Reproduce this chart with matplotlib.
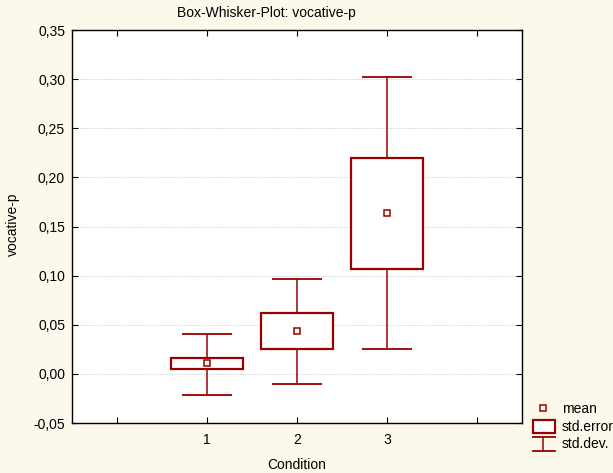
import matplotlib
matplotlib.use("Agg")
import matplotlib.pyplot as plt
from matplotlib.patches import Rectangle

plt.rcParams['font.family'] = ['Liberation Sans', 'DejaVu Sans']

# Data
conditions = [1, 2, 3]
means = [0.011, 0.044, 0.164]
se_lo = [0.005, 0.025, 0.107]
se_hi = [0.016, 0.062, 0.220]
sd_lo = [-0.021, -0.010, 0.025]
sd_hi = [0.041, 0.097, 0.302]
yticks = [-0.05, 0.00, 0.05, 0.10, 0.15, 0.20, 0.25, 0.30, 0.35]
ytick_labels = ["-0,05", "0,00", "0,05", "0,10", "0,15", "0,20", "0,25", "0,30", "0,35"]
xticks = [0, 1, 2, 3, 4]
xtick_labels = ["", "1", "2", "3", ""]

RED = "#990000"
BG = "#FDF8EC"
FS = 10

fig = plt.figure(figsize=(6.13, 4.73), dpi=100, facecolor=BG)
ax = fig.add_axes([72/613, 50/473, 450/613, 393/473])
ax.set_facecolor("white")

box_w = 0.79
cap_w = 0.56
for x, m, blo, bhi, wlo, whi in zip(conditions, means, se_lo, se_hi, sd_lo, sd_hi):
    ax.vlines(x, bhi, whi, color=RED, lw=1.1, zorder=3)
    ax.vlines(x, wlo, blo, color=RED, lw=1.1, zorder=3)
    ax.hlines([wlo, whi], x - cap_w/2, x + cap_w/2, color=RED, lw=1.3, zorder=3)
    ax.add_patch(Rectangle((x - box_w/2, blo), box_w, bhi - blo, facecolor="white",
                           edgecolor=RED, lw=1.6, zorder=4))
    ax.plot([x], [m], marker="s", ms=4.5, mfc="white", mec=RED, mew=1.1, zorder=5)

ax.set_xlim(-0.5, 4.5)
ax.set_ylim(-0.05, 0.35)
ax.set_yticks(yticks)
ax.set_yticklabels(ytick_labels)
ax.set_xticks(xticks)
ax.set_xticklabels(xtick_labels)
ax.tick_params(direction="in", top=True, right=True, length=4, width=0.8,
               labelsize=FS, colors="black")
ax.tick_params(axis="x", pad=7)
ax.tick_params(axis="y", pad=5)
for s in ax.spines.values():
    s.set_linewidth(1.0)
    s.set_color("black")
ax.yaxis.grid(True, linestyle=(0, (1, 1.5)), color="#C8C8C8", lw=0.7)
ax.set_axisbelow(True)

ax.set_xlabel("Condition", fontsize=FS, labelpad=8)

# Figure-level texts (pixel positions)
fig.text(266.5/613, 1 - 13/473, "Box-Whisker-Plot: vocative-p", fontsize=FS,
         ha="center", va="center")
fig.text(13/613, 1 - 224/473, "vocative-p", fontsize=FS, rotation=90,
         ha="center", va="center")

# Legend (manual, in figure pixel coordinates)
lg = fig.add_axes([0, 0, 1, 1], facecolor="none")
lg.set_xlim(0, 613)
lg.set_ylim(473, 0)
lg.axis("off")
lg.plot([543], [408], marker="s", ms=4.5, mfc="white", mec=RED, mew=1.1)
lg.text(562, 409, "mean", fontsize=FS, va="center", ha="left")
lg.add_patch(Rectangle((533, 420), 22, 13, facecolor="white", edgecolor=RED, lw=1.6))
lg.text(562, 427, "std.error", fontsize=FS, va="center", ha="left")
lg.plot([543, 543], [437, 451], color=RED, lw=1.1)
lg.plot([533, 555], [437, 437], color=RED, lw=1.3)
lg.plot([533, 555], [451, 451], color=RED, lw=1.3)
lg.text(562, 444, "std.dev.", fontsize=FS, va="center", ha="left")

fig.savefig("out.png", dpi=100, facecolor=BG)
